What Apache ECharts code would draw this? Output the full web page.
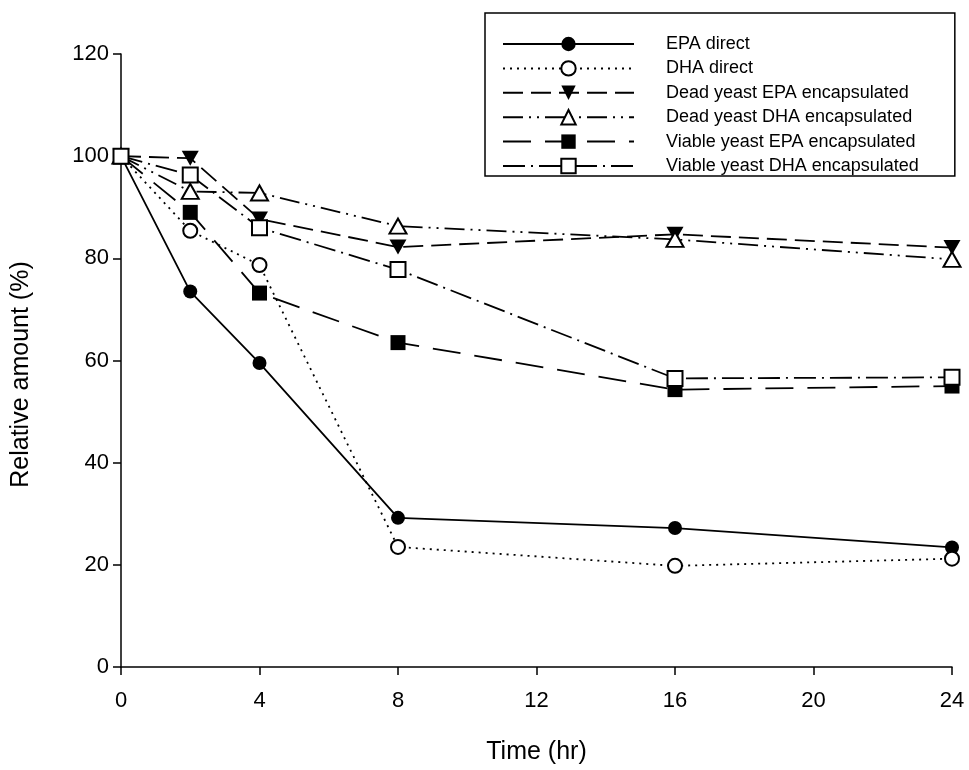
<!DOCTYPE html>
<html>
<head>
<meta charset="utf-8">
<script src="https://cdn.jsdelivr.net/npm/echarts@6/dist/echarts.min.js"></script>
<style>
  html, body { margin: 0; padding: 0; background: #fff; }
  #main { width: 969px; height: 770px; }
</style>
</head>
<body>
<div id="main"></div>
<script>
// time points (hr)
const hours = [0, 2, 4, 8, 16, 24];
// relative amount (%)
const epaDirect = [100, 73.5, 59.5, 29.2, 27.2, 23.4];
const dhaDirect = [100, 85.4, 78.7, 23.5, 19.8, 21.2];
const deadEpa = [100, 99.6, 87.7, 82.2, 84.7, 82.1];
const deadDha = [100, 93.1, 92.8, 86.3, 83.7, 79.8];
const viableEpa = [100, 89.0, 73.2, 63.5, 54.3, 55.0];
const viableDha = [100, 96.3, 86.0, 77.8, 56.5, 56.7];

const names = [
  "EPA direct",
  "DHA direct",
  "Dead yeast EPA encapsulated",
  "Dead yeast DHA encapsulated",
  "Viable yeast EPA encapsulated",
  "Viable yeast DHA encapsulated"
];

const font = "'Liberation Sans', Arial, Helvetica, sans-serif";

function pairs(vals) {
  return hours.map(function (h, i) { return [h, vals[i]]; });
}

function makeSeries(name, vals, symbol, size, filled, dash, rotate) {
  return {
    name: name,
    type: "line",
    data: pairs(vals),
    symbol: symbol,
    symbolSize: size,
    symbolRotate: rotate || 0,
    showAllSymbol: true,
    lineStyle: { color: "#000", width: 1.8, type: dash },
    itemStyle: {
      color: filled ? "#000" : "#fff",
      borderColor: "#000",
      borderWidth: filled ? 0 : 2
    },
    emphasis: { disabled: true }
  };
}

const chart = echarts.init(document.getElementById("main"));

const option = {
  animation: false,
  backgroundColor: "#fff",
  grid: { left: 121, right: 17, top: 54, bottom: 102 },
  legend: {
    orient: "vertical",
    left: 485,
    top: 13,
    padding: [22, 36, 1, 17],
    itemWidth: 131,
    itemHeight: 18,
    itemGap: 6.4,
    borderColor: "#000",
    borderWidth: 1.5,
    borderRadius: 0,
    symbolRotate: "inherit",
    textStyle: { fontFamily: font, fontSize: 18, color: "#000", padding: [0, 0, 0, 27] },
    data: names
  },
  xAxis: {
    type: "value",
    min: 0,
    max: 24,
    interval: 4,
    name: "Time (hr)",
    nameLocation: "middle",
    nameGap: 73,
    nameTextStyle: { fontFamily: font, fontSize: 25, color: "#000" },
    axisLine: { show: true, lineStyle: { color: "#000", width: 1.5 } },
    axisTick: { show: true, inside: false, length: 8, lineStyle: { color: "#000", width: 1.5 } },
    axisLabel: { fontFamily: font, fontSize: 22, color: "#000", margin: 23 },
    splitLine: { show: false }
  },
  yAxis: {
    type: "value",
    min: 0,
    max: 120,
    interval: 20,
    name: "Relative amount (%)",
    nameLocation: "middle",
    nameGap: 87,
    nameTextStyle: { fontFamily: font, fontSize: 25, color: "#000", padding: [0, 28, 0, 0] },
    axisLine: { show: true, lineStyle: { color: "#000", width: 1.5 } },
    axisTick: { show: true, inside: false, length: 8, lineStyle: { color: "#000", width: 1.5 } },
    axisLabel: { fontFamily: font, fontSize: 22, color: "#000", margin: 12 },
    splitLine: { show: false }
  },
  series: [
    makeSeries(names[0], epaDirect, "circle", 14, true, "solid"),
    makeSeries(names[1], dhaDirect, "circle", 14, false, [2, 5]),
    makeSeries(names[2], deadEpa, "triangle", [17, 15], true, [20, 8], 180),
    makeSeries(names[3], deadDha, "triangle", [17, 15], false, [20, 6, 2, 6, 2, 6]),
    makeSeries(names[4], viableEpa, "rect", 15, true, [28, 14]),
    makeSeries(names[5], viableDha, "rect", 15, false, [22, 6, 2, 6])
  ]
};

chart.setOption(option);
</script>
</body>
</html>
